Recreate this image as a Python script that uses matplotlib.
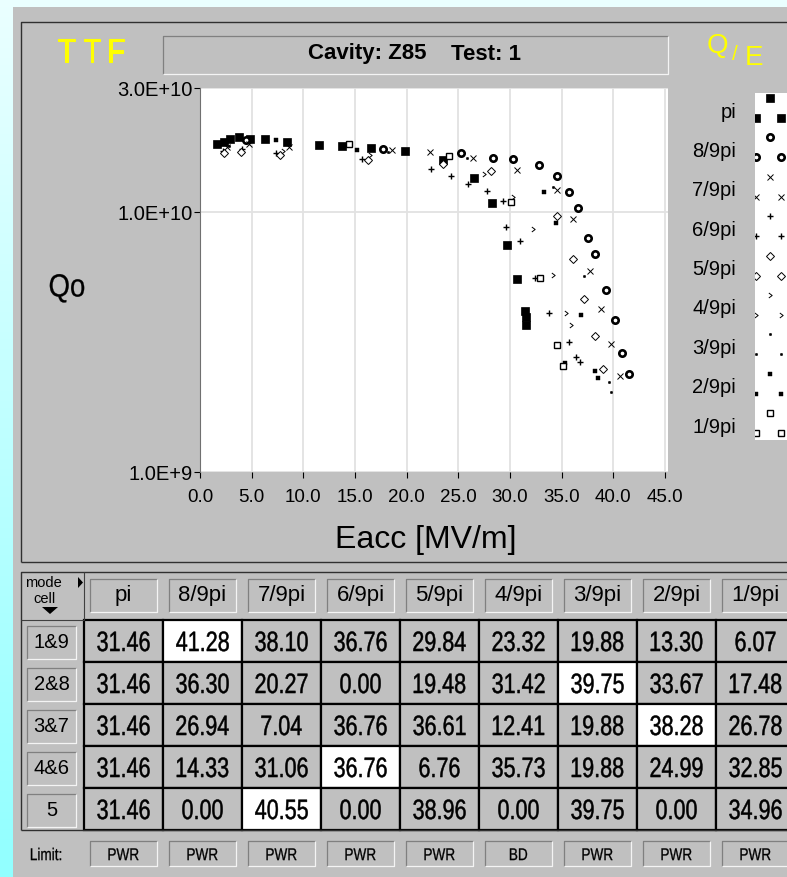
import numpy as np
import matplotlib
matplotlib.use('Agg')
import matplotlib.pyplot as plt
from matplotlib.patches import Rectangle, Polygon, PathPatch
from matplotlib.path import Path
from matplotlib.textpath import TextPath
from matplotlib.font_manager import FontProperties
from matplotlib.transforms import Affine2D
from matplotlib.ticker import NullLocator

plt.rcParams['font.family'] = ['Liberation Sans', 'DejaVu Sans']

# Qo vs Eacc for each pass-band mode
eacc_pi = [1.6, 2.35, 2.9, 3.8, 4.85, 6.3, 8.45, 11.5, 13.7, 16.6, 19.8, 23.5, 26.5, 28.3, 29.7, 30.7, 31.5, 31.6, 31.6]
qo_pi = [1.83e10, 1.86e10, 1.91e10, 1.95e10, 1.91e10, 1.91e10, 1.86e10, 1.81e10, 1.80e10, 1.77e10,
         1.71e10, 1.58e10, 1.35e10, 1.08e10, 7.45e9, 5.52e9, 4.16e9, 3.96e9, 3.69e9]
eacc_8 = [4.5, 17.7, 25.3, 28.4, 30.3, 32.8, 34.6, 35.7, 36.6, 37.6, 38.2, 39.3, 40.2, 40.9, 41.5]
qo_8 = [1.89e10, 1.75e10, 1.68e10, 1.62e10, 1.60e10, 1.52e10, 1.37e10, 1.19e10, 1.04e10, 7.95e9,
        6.88e9, 5.00e9, 3.84e9, 2.86e9, 2.38e9]
eacc_7 = [2.6, 4.7, 8.6, 18.6, 22.3, 26.4, 30.7, 34.6, 36.1, 37.8, 38.8, 39.8, 40.7]
qo_7 = [1.78e10, 1.83e10, 1.78e10, 1.73e10, 1.70e10, 1.62e10, 1.45e10, 1.22e10, 9.38e9, 5.94e9,
        4.24e9, 3.12e9, 2.34e9]
eacc_6 = [2.2, 4.1, 7.4, 15.7, 22.4, 24.3, 25.9, 27.8, 29.3, 29.6, 31.0, 32.4, 33.8, 35.7, 36.4, 36.8]
qo_6 = [1.72e10, 1.75e10, 1.68e10, 1.60e10, 1.47e10, 1.38e10, 1.28e10, 1.20e10, 1.10e10, 8.78e9,
        7.72e9, 5.59e9, 4.08e9, 3.17e9, 2.78e9, 2.64e9]
eacc_5 = [2.3, 4.0, 7.7, 16.3, 23.5, 28.2, 34.6, 36.1, 37.2, 38.2, 39.0]
qo_5 = [1.68e10, 1.70e10, 1.66e10, 1.58e10, 1.53e10, 1.44e10, 9.66e9, 6.59e9, 4.63e9, 3.34e9, 2.48e9]
eacc_4 = [8.0, 16.5, 27.5, 30.3, 32.2, 34.2, 35.4, 35.9]
qo_4 = [1.72e10, 1.66e10, 1.40e10, 1.14e10, 8.58e9, 5.71e9, 4.10e9, 3.69e9]
eacc_3 = [2.8, 18.2, 25.8, 34.2, 37.2, 39.6, 39.8]
qo_3 = [1.80e10, 1.70e10, 1.61e10, 1.25e10, 5.69e9, 2.22e9, 2.04e9]
eacc_2 = [7.4, 15.2, 33.3, 34.5, 35.3, 36.9, 38.2, 38.5]
qo_2 = [1.89e10, 1.73e10, 1.19e10, 9.05e9, 2.62e9, 4.02e9, 2.45e9, 2.30e9]
eacc_1 = [14.4, 24.1, 30.1, 32.9, 34.6, 35.1]
qo_1 = [1.83e10, 1.64e10, 1.09e10, 5.59e9, 3.08e9, 2.56e9]

modes = ['pi', '8/9pi', '7/9pi', '6/9pi', '5/9pi', '4/9pi', '3/9pi', '2/9pi', '1/9pi']
cells = ['1&9', '2&8', '3&7', '4&6', '5']

# max gradient per cell pair (rows) and mode (columns)
grad_19 = [31.46, 41.28, 38.10, 36.76, 29.84, 23.32, 19.88, 13.30, 6.07]
grad_28 = [31.46, 36.30, 20.27, 0.00, 19.48, 31.42, 39.75, 33.67, 17.48]
grad_37 = [31.46, 26.94, 7.04, 36.76, 36.61, 12.41, 19.88, 38.28, 26.78]
grad_46 = [31.46, 14.33, 31.06, 36.76, 6.76, 35.73, 19.88, 24.99, 32.85]
grad_5 = [31.46, 0.00, 40.55, 0.00, 38.96, 0.00, 39.75, 0.00, 34.96]
limiting_cell = [None, 0, 4, 3, None, None, 1, 2, None]
limits = ['PWR', 'PWR', 'PWR', 'PWR', 'PWR', 'BD', 'PWR', 'PWR', 'PWR']

chevron = Path([(-0.6, 0.9), (0.6, 0.0), (-0.6, -0.9)], [Path.MOVETO, Path.LINETO, Path.LINETO])
styles = [
    dict(marker='s', ms=5.4, mfc='k', mec='k', mew=0.5),
    dict(marker='o', ms=4.6, mfc='w', mec='k', mew=1.9),
    dict(marker='x', ms=4.6, mfc='none', mec='k', mew=0.7),
    dict(marker='+', ms=5.0, mfc='none', mec='k', mew=1.0),
    dict(marker='D', ms=3.6, mfc='w', mec='k', mew=0.7),
    dict(marker=chevron, ms=3.6, mfc='none', mec='k', mew=0.7),
    dict(marker='o', ms=1.8, mfc='k', mec='k', mew=0.3),
    dict(marker='s', ms=3.0, mfc='k', mec='k', mew=0.3),
    dict(marker='s', ms=5.0, mfc='w', mec='k', mew=1.0),
]
series = [(eacc_pi, qo_pi), (eacc_8, qo_8), (eacc_7, qo_7), (eacc_6, qo_6), (eacc_5, qo_5),
          (eacc_4, qo_4), (eacc_3, qo_3), (eacc_2, qo_2), (eacc_1, qo_1)]

W, H = 787, 877
fig = plt.figure(figsize=(W / 100, H / 100), dpi=100)


def fig_rect(x0, y0, x1, y1):
    return [x0 / W, 1 - y1 / H, (x1 - x0) / W, (y1 - y0) / H]


bg = fig.add_axes([0, 0, 1, 1])
shade = np.linspace(0, 1, 256)[:, None]
backdrop = np.ones((256, 1, 3))
backdrop[..., 0] = 0.92 - 0.35 * shade
bg.imshow(backdrop, extent=[0, W, H, 0], aspect='auto', zorder=0)
bg.set_xlim(0, W)
bg.set_ylim(H, 0)
bg.axis('off')
bg.add_patch(Rectangle((13, 7), W - 13, H - 7, fc='#c0c0c0', ec='none', zorder=1))

sans = FontProperties(family='Liberation Sans')


def narrow_text(x, y, s, size_px, squeeze=0.78, color='k', stroke=0.35):
    # condensed glyphs: outline of the text squeezed horizontally, centred on (x, y)
    tp = TextPath((0, 0), s, size=size_px, prop=sans)
    ext = tp.get_extents()
    cx = (ext.x0 + ext.x1) / 2
    cy = size_px * 0.716 / 2
    tr = Affine2D().translate(-cx, -cy).scale(squeeze, -1).translate(x, y) + bg.transData
    bg.add_patch(PathPatch(tp, transform=tr, fc=color, ec=color, lw=stroke, zorder=4))


def line(xs, ys, color='#303030', lw=1.0):
    bg.plot(xs, ys, color=color, lw=lw, solid_capstyle='butt', zorder=3)


def sunken(x0, y0, x1, y1):
    line([x0, x0, x1], [y1, y0, y0], color='#808080', lw=0.9)
    line([x0, x1, x1], [y1, y1, y0], color='#f4f4f4', lw=0.9)


# panel frames
line([21, 21, W], [562, 22, 22])
line([21, W], [562, 562])
line([21, 21, W], [830, 572, 572])
line([21, W], [830, 830])

# header
sunken(163, 36, 668, 74)
bg.text(367, 54, 'Cavity: Z85', fontsize=16, fontweight='bold', ha='center', va='center', zorder=4)
bg.text(486, 54, 'Test: 1', fontsize=16, fontweight='bold', ha='center', va='center', zorder=4)
for cx, ch in zip([66.5, 92, 116.5], 'TTF'):
    narrow_text(cx, 50, ch, 34, squeeze=0.85, color='#ffff00', stroke=0.8)
bg.text(717, 46, 'Q', fontsize=20, color='#ffff00', ha='center', va='center', zorder=4)
bg.text(735, 55, '/', fontsize=15, color='#ffff00', ha='center', va='center', zorder=4)
bg.text(754, 58, 'E', fontsize=20, color='#ffff00', ha='center', va='center', zorder=4)

narrow_text(67, 285, 'Qo', 32, squeeze=0.86, stroke=0.2)
bg.text(426, 540, 'Eacc [MV/m]', fontsize=23, ha='center', va='center', zorder=4)

# Qo(Eacc) plot
ax = fig.add_axes(fig_rect(200, 88, 668, 472))
ax.set_facecolor('white')
for (ex, qy), st in zip(series, styles):
    ax.plot(ex, qy, ls='none', clip_on=True, zorder=3, **st)
ax.set_yscale('log')
ax.set_xlim(0, 468 / 10.33)
ax.set_ylim(1e9, 3e10)
ax.set_xticks(np.arange(0, 46, 5))
ax.set_xticklabels(['%.1f' % v for v in np.arange(0, 46, 5)])
ax.set_yticks([1e9, 1e10, 3e10])
ax.set_yticklabels(['1.0E+9', '1.0E+10', '3.0E+10'])
ax.yaxis.set_minor_locator(NullLocator())
ax.grid(True, color='#e2e2e2', lw=1.3, zorder=0)
ax.set_axisbelow(True)
for side in ['top', 'right', 'bottom']:
    ax.spines[side].set_visible(False)
ax.spines['left'].set_color('#707070')
ax.spines['left'].set_linewidth(0.8)
ax.tick_params(axis='x', direction='out', length=4, width=0.8, labelsize=13.5, pad=8)
ax.tick_params(axis='y', direction='out', length=4, width=0.8, labelsize=14.5, pad=1)

# mode key
lg = fig.add_axes(fig_rect(755, 93, 800, 440))
lg.set_xlim(755, 800)
lg.set_ylim(440, 93)
lg.axis('off')
lg.add_patch(Rectangle((755, 93), 45, 347, fc='white', ec='none'))
for i, (name, st) in enumerate(zip(modes, styles)):
    yl = 112 + 39.4 * i
    lg.plot([770], [yl - 14], ls='none', **st)
    lg.plot([756, 781], [yl + 6, yl + 6], ls='none', **st)
    bg.text(736, yl, name, fontsize=14.5, ha='right', va='center', zorder=4)

# gradient table
col_w, row_h = 79, 42
rows = [grad_19, grad_28, grad_37, grad_46, grad_5]
line([84, 84], [572, 620], color='#404040', lw=0.8)
line([21, 84], [620, 620], color='#404040', lw=0.8)
bg.text(43, 583, 'mode', fontsize=10.5, ha='center', va='center', zorder=4)
bg.text(45, 599, 'cell', fontsize=10.5, ha='center', va='center', zorder=4)
bg.add_patch(Polygon([(42, 607), (58, 607), (50, 614)], closed=True, fc='k', ec='none', zorder=4))
bg.add_patch(Polygon([(78, 577), (78, 588), (83, 582.5)], closed=True, fc='k', ec='none', zorder=4))

for j, name in enumerate(modes):
    x0 = 84 + col_w * j
    sunken(x0 + 6, 579, x0 + 73, 612)
    bg.text(x0 + col_w / 2, 596, name, fontsize=16, ha='center', va='center', zorder=4)
    sunken(x0 + 6, 841, x0 + 73, 866)
    narrow_text(x0 + col_w / 2, 854, limits[j], 17, squeeze=0.8, stroke=0.2)
    for i, vals in enumerate(rows):
        y0 = 620 + row_h * i
        fc = 'white' if limiting_cell[j] == i else '#c0c0c0'
        bg.add_patch(Rectangle((x0, y0), col_w, row_h, fc=fc, ec='black', lw=1.6, zorder=2))
        narrow_text(x0 + col_w / 2, y0 + row_h / 2, '%.2f' % vals[j], 28, squeeze=0.77, stroke=0.35)

for i, name in enumerate(cells):
    y0 = 620 + row_h * i
    sunken(27, y0 + 6, 76, y0 + 39)
    bg.text(51.5, y0 + 22, name, fontsize=14.5, ha='center', va='center', zorder=4)

narrow_text(46, 854, 'Limit:', 17, squeeze=0.8, stroke=0.2)

fig.savefig('out.png', dpi=100)
